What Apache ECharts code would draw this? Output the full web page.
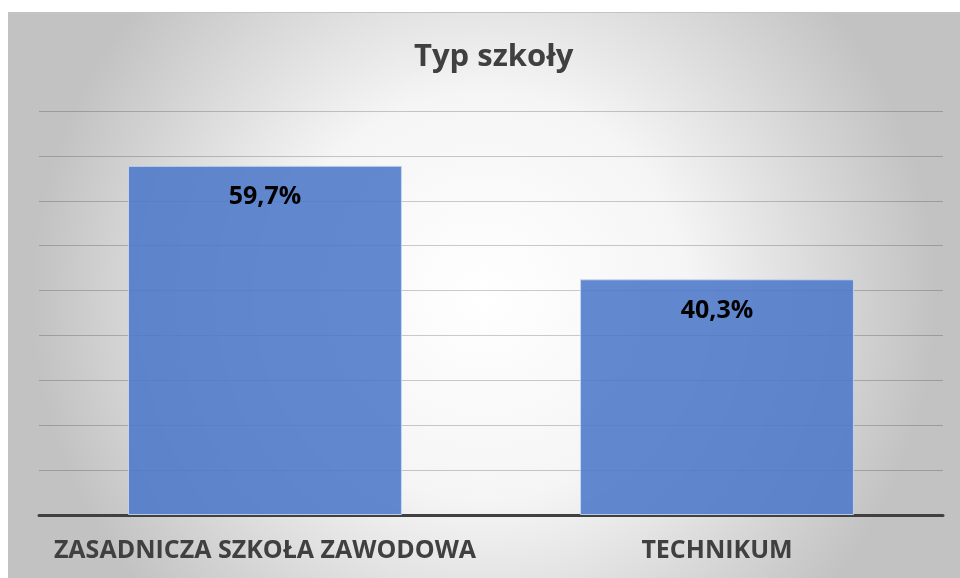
<!DOCTYPE html>
<html>
<head>
<meta charset="utf-8">
<script src="https://cdn.jsdelivr.net/npm/echarts@6/dist/echarts.min.js"></script>
<style>
  html, body { margin: 0; padding: 0; background: #fff; }
  #chart { position: absolute; left: 8px; top: 12px; width: 952px; height: 566px; border-top: 1px solid #c4c4c4; box-sizing: border-box; }
</style>
</head>
<body>
<div id="chart"></div>
<script>
const categories = ['ZASADNICZA SZKOŁA ZAWODOWA', 'TECHNIKUM']
const values = [59.7, 40.3]

const chart = echarts.init(document.getElementById('chart'))
const step = 7.675 // odstęp linii siatki

chart.setOption({
  backgroundColor: {
    type: 'radial', x: 0.5, y: 0.5, r: 0.8,
    colorStops: [
      { offset: 0, color: '#ffffff' },
      { offset: 0.45, color: '#f5f5f5' },
      { offset: 1, color: '#c2c2c2' }
    ]
  },
  title: {
    text: 'Typ szkoły',
    left: 401,
    top: 24,
    textStyle: { fontFamily: 'Open Sans', fontWeight: 'bold', fontSize: 31, color: '#404040' }
  },
  grid: { left: 31, right: 17, top: 98, bottom: 63 },
  xAxis: {
    type: 'category',
    data: categories,
    axisLine: { lineStyle: { color: '#404040', width: 3 } },
    axisTick: { show: false },
    axisLabel: {
      interval: 0,
      margin: 23,
      fontFamily: 'Open Sans', fontWeight: 'bold', fontSize: 25, color: '#404040'
    }
  },
  yAxis: {
    type: 'value',
    min: 0,
    max: step * 9,
    interval: step,
    axisLabel: { show: false },
    axisLine: { show: false },
    axisTick: { show: false },
    splitLine: { lineStyle: { color: 'rgba(0,0,0,0.2)', width: 1 } }
  },
  series: [{
    type: 'bar',
    data: values,
    barWidth: '60.6%',
    z: 1,
    itemStyle: { color: 'rgba(76,121,201,0.88)', borderColor: 'rgba(200,215,240,0.9)', borderWidth: 1 },
    label: {
      show: true,
      position: 'insideTop',
      distance: 19,
      formatter: p => String(p.value).replace('.', ',') + '%',
      fontFamily: 'Open Sans', fontWeight: 'bold', fontSize: 25, color: '#000'
    }
  }]
})
</script>
</body>
</html>
